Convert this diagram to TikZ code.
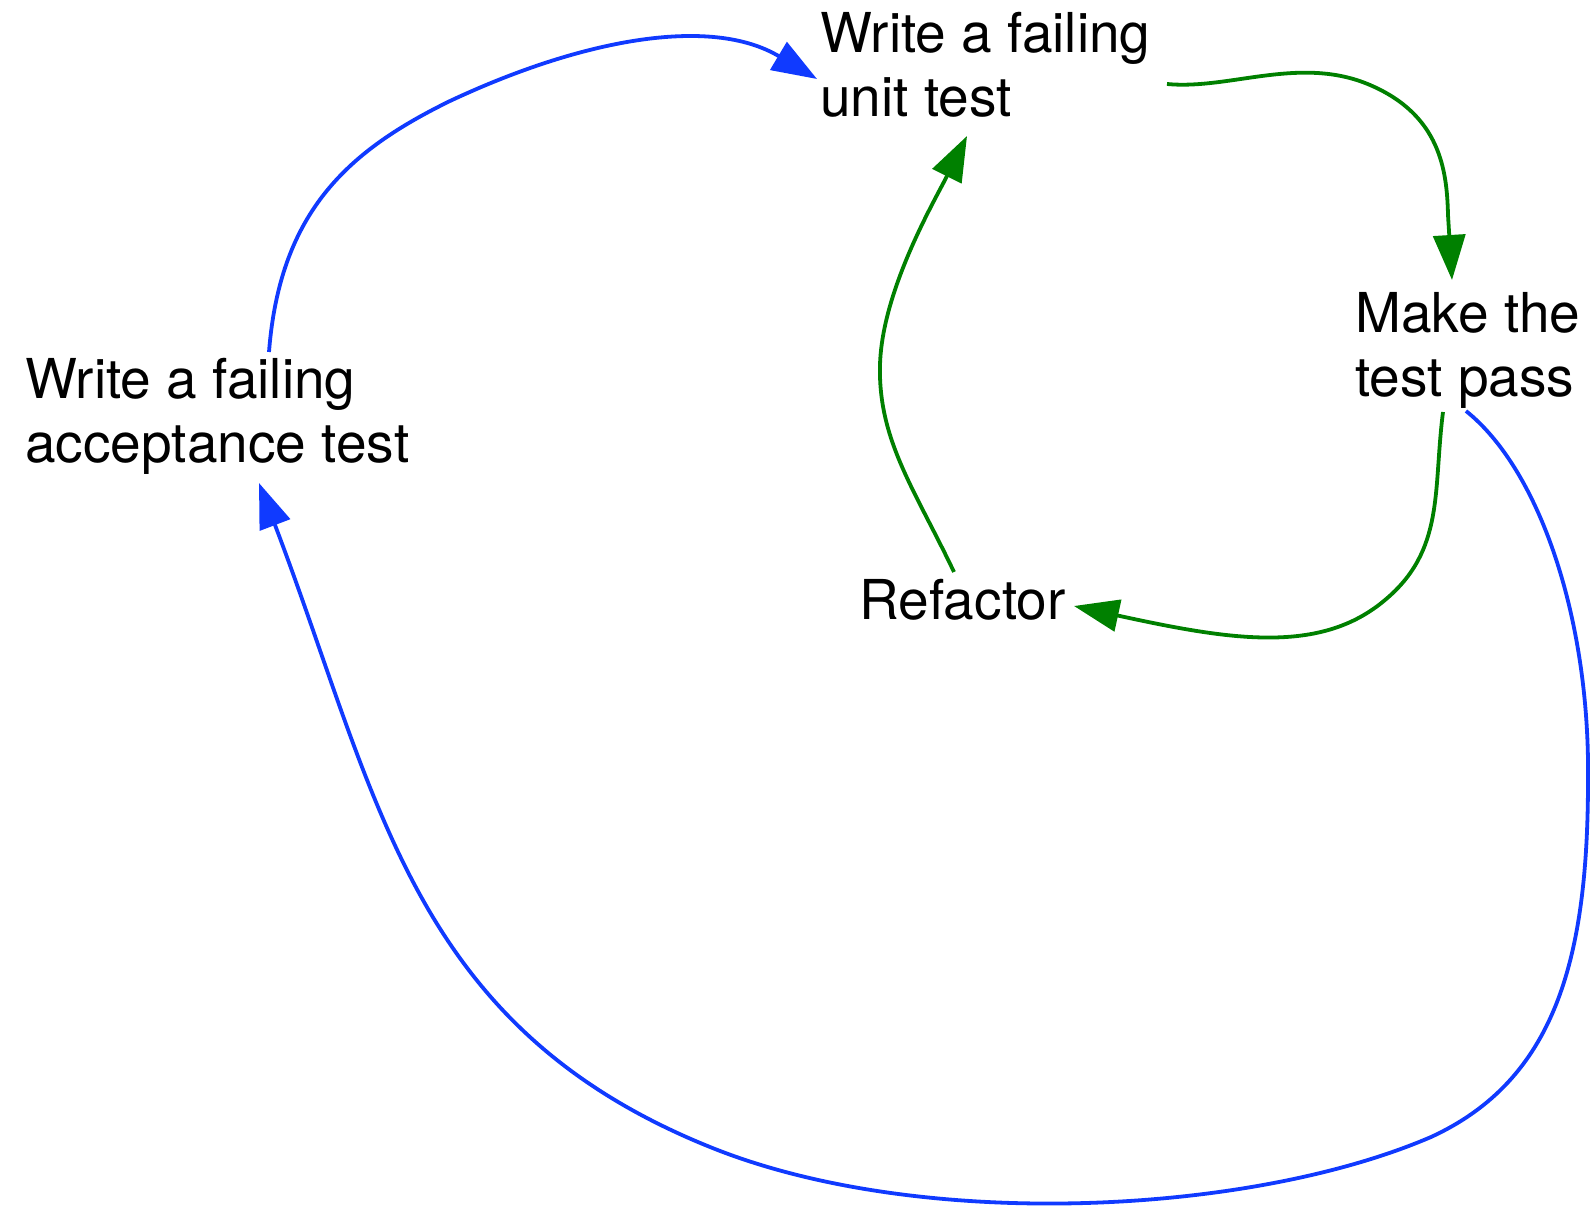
\documentclass[tikz,border=0pt]{standalone}
\usepackage{fontspec}
\setmainfont{TeX Gyre Heros}
\usetikzlibrary{arrows.meta}
\definecolor{loopblue}{RGB}{16,58,255}
\definecolor{loopgreen}{RGB}{0,128,0}
\begin{document}
\begin{tikzpicture}[x=0.5pt,y=-0.5pt,
  steptext/.style={inner sep=0pt, anchor=base west, align=left,
    font=\fontsize{27.5}{32}\selectfont},
  tip/.style={-{Triangle[length=22.5pt,width=16pt]}},
  outerloop/.style={draw=loopblue, line width=1.9pt, tip},
  innerloop/.style={draw=loopgreen, line width=1.9pt, tip}]
\useasboundingbox (0,0) rectangle (1591,1208);

% the four steps (base west = baseline of the last line)
\node[steptext] (unit)     at (820,117)  {Write a failing\\unit test};
\node[steptext] (pass)     at (1355,397) {Make the\\test pass};
\node[steptext] (refactor) at (859,619)  {Refactor};
\node[steptext] (accept)   at (25,463)   {Write a failing\\acceptance test};

% attachment points of the connectors
\coordinate (unit-out)     at ([shift={(347,-33)}]unit.base west);
\coordinate (unit-in-a)    at ([shift={(-3,-38)}]unit.base west);
\coordinate (unit-in-r)    at ([shift={(147,19)}]unit.base west);
\coordinate (pass-in)      at ([shift={(97,-117)}]pass.base west);
\coordinate (pass-out-r)   at ([shift={(88,15)}]pass.base west);
\coordinate (pass-out-a)   at ([shift={(111,14)}]pass.base west);
\coordinate (refactor-in)  at ([shift={(215,-13)}]refactor.base west);
\coordinate (refactor-out) at ([shift={(95,-47)}]refactor.base west);
\coordinate (accept-out)   at ([shift={(244,-111)}]accept.base west);
\coordinate (accept-in)    at ([shift={(234,20)}]accept.base west);

% inner loop: unit test -> pass -> refactor -> unit test
\draw[innerloop] (unit-out) .. controls (1230,90) and (1300,55) .. (1370,85)
  .. controls (1440,115) and (1447,170) .. (1448,215) -- (pass-in);
\draw[innerloop] (pass-out-r) .. controls (1433,490) and (1445,550) .. (1385,600)
  .. controls (1320,655) and (1230,640) .. (refactor-in);
\draw[innerloop] (refactor-out) .. controls (915,490) and (878,440) .. (880,365)
  .. controls (882,290) and (935,200) .. (unit-in-r);

% outer loop: acceptance test -> unit test, pass -> acceptance test
\draw[outerloop] (accept-out) .. controls (280,210) and (350,150) .. (450,101)
  .. controls (580,40) and (710,15) .. (unit-in-a);
\draw[outerloop] (pass-out-a) .. controls (1540,470) and (1590,620) .. (1588,780)
  .. controls (1588,960) and (1555,1080) .. (1431,1137)
  .. controls (1250,1215) and (920,1232) .. (710,1147)
  .. controls (410,1026) and (379,798) .. (accept-in);
\end{tikzpicture}
\end{document}
